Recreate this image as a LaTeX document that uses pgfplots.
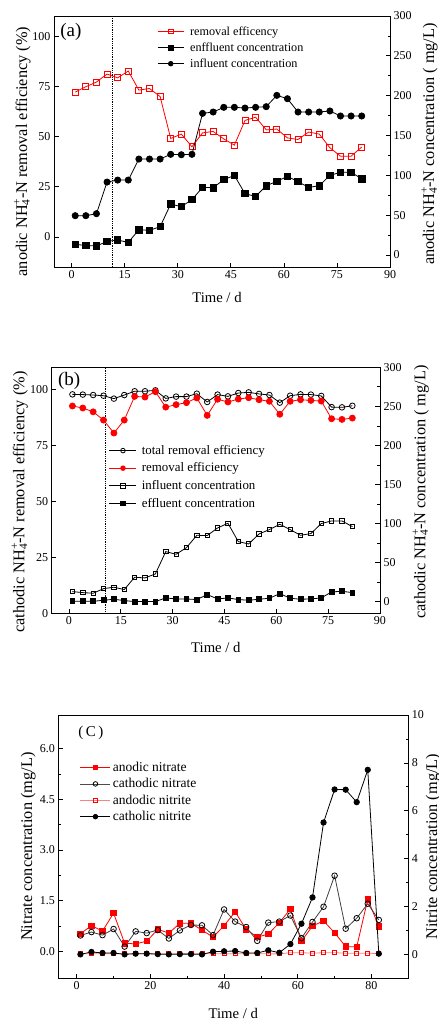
\documentclass[border=0pt]{standalone}
\usepackage{pgfplots}
\usepackage{pgfplotstable}
\pgfplotsset{compat=1.18}
\usepackage{fontspec}
\setmainfont{Liberation Serif}

\pgfplotstableread{
d re ef in
1 72.1 13.4 49.4
4 74.8 12.1 49.4
7 77.1 11.3 51.9
10 81.1 17.2 91.6
13 79.2 18.8 94.1
16 82.6 15.9 94.1
19 73.1 31.8 120.5
22 73.9 31.0 120.5
25 69.9 35.6 120.5
28 49.0 64.0 126.4
31 51.2 60.7 125.9
34 44.9 69.5 126.4
37 51.8 84.9 177.8
40 52.5 84.5 179.5
43 48.8 94.6 185.4
46 45.7 100.0 185.4
49 58.0 77.0 184.5
52 59.6 73.6 185.4
55 53.3 87.0 186.2
58 53.7 92.5 200.4
61 49.3 98.7 196.2
64 48.5 92.1 179.5
67 52.2 84.9 179.5
70 51.2 87.0 179.5
73 44.4 100.0 180.8
76 40.2 103.8 174.5
79 40.2 103.8 174.5
82 44.7 95.8 174.5
}\tA

\pgfplotstableread{
d tot re in ef
1 97.9 92.7 12.8 0.4
4 97.8 91.8 11.5 0.4
7 97.6 90.1 10.7 0.4
10 97.3 86.4 16.6 1.7
13 96.0 80.6 18.4 3.0
16 97.6 86.4 15.4 1.3
19 99.3 97.0 31.2 0.0
22 99.3 96.7 30.3 0.0
25 99.7 99.1 35.4 0.0
28 96.1 92.2 64.0 4.7
31 96.9 93.3 60.6 3.4
34 96.9 94.2 69.1 3.4
37 98.2 96.3 84.9 2.6
40 94.5 88.5 84.5 9.0
43 97.8 95.7 94.3 3.4
46 97.0 94.5 100.3 4.7
49 98.5 95.8 76.8 2.6
52 98.8 96.4 73.8 1.7
55 98.1 95.5 86.6 3.0
58 97.6 94.8 92.2 4.3
61 94.2 89.0 99.0 10.2
64 97.3 94.8 92.2 4.3
67 97.9 95.5 84.9 3.0
70 97.8 95.2 87.1 3.4
73 97.2 94.9 99.9 4.7
76 92.2 87.0 103.3 12.4
79 92.1 86.7 103.3 13.2
82 92.8 87.3 96.0 11.5
}\tB

\pgfplotstableread{
d an cn ani cni
1 0.52 0.47 0.03 0.00
4 0.76 0.57 0.03 0.10
7 0.60 0.48 0.03 0.06
10 1.13 0.66 0.03 0.06
13 0.24 0.14 0.03 0.00
16 0.22 0.59 0.03 0.03
19 0.30 0.54 0.03 0.03
22 0.65 0.63 0.03 0.01
25 0.54 0.38 0.03 0.00
28 0.83 0.62 0.03 0.01
31 0.83 0.78 0.03 0.01
34 0.63 0.77 0.03 0.00
37 0.42 0.48 0.03 0.11
40 0.76 1.24 0.03 0.13
43 1.17 0.88 0.03 0.14
46 0.65 0.72 0.03 0.06
49 0.42 0.31 0.03 0.06
52 0.51 0.85 0.02 0.17
55 0.85 0.88 0.02 0.07
58 1.25 1.06 0.07 0.43
61 0.30 0.39 0.07 1.28
64 0.75 0.87 0.05 2.38
67 0.90 1.32 0.07 5.51
70 0.55 2.24 0.07 6.89
73 0.14 0.67 0.05 6.88
76 0.13 0.98 0.05 6.36
79 1.54 1.41 0.05 7.71
82 0.74 0.93 0.03 0.03
}\tC

\newcommand{\NHf}{NH\rlap{\textsuperscript{+}}\textsubscript{4}}

\pgfplotsset{
  every axis/.append style={
    scale only axis,
    /pgf/number format/assume math mode=true,
    tick label style={font=\fontsize{12}{14}\selectfont},
    ylabel style={font=\fontsize{16.3}{18}\selectfont},
    xlabel style={font=\fontsize{14.7}{16}\selectfont},
    axis line style={line width=0.9pt},
    every tick/.style={black, line width=0.7pt},
    major tick length=4.5pt, minor tick length=2.5pt,
    legend style={draw=none, fill=none, anchor=north west},
    legend cell align=left,
  },
  lega/.style={legend image code/.code={\draw[mark repeat=2,mark phase=2,##1,mark size=2.3pt] plot coordinates {(0pt,0pt) (13pt,0pt) (26pt,0pt)}; \path (30pt,0pt);}},
  legb/.style={legend image code/.code={\draw[mark repeat=2,mark phase=2,##1,mark size=2.3pt] plot coordinates {(0pt,0pt) (13.5pt,0pt) (27pt,0pt)}; \path (30pt,0pt);}},
  legc/.style={legend image code/.code={\draw[mark repeat=2,mark phase=2,##1,mark size=2.3pt] plot coordinates {(0pt,0pt) (15pt,0pt) (30pt,0pt)}; \path (29pt,0pt);}},
}

\begin{document}
\begin{tikzpicture}
%================ panel (a)
\begin{axis}[at={(54pt,-267pt)}, anchor=south west, width=336pt, height=251pt,
  xmin=-5, xmax=90, ymin=-15, ymax=110,
  xtick={0,15,...,90}, ytick={0,25,...,100},
  xtick pos=bottom, ytick pos=left,
  xlabel={Time / d},
  ylabel={anodic \NHf-N removal efficiency (\%)},
  ylabel style={at={(axis description cs:-0.094,0.46)}, anchor=center},
  xlabel style={at={(axis description cs:0.485,-0.12)}, anchor=center}]
\addplot[red, line width=0.8pt, mark=square, mark size=3pt, mark options={solid, fill=white}] table[x=d,y=re]{\tA};
\addplot[black, densely dotted, line width=0.8pt, forget plot] coordinates {(11.6,-15) (11.6,110)};
\node[anchor=west, font=\fontsize{19}{20}\selectfont, inner sep=0pt] at (axis description cs:0.018,0.936) {(a)};
\end{axis}
\begin{axis}[at={(54pt,-267pt)}, anchor=south west, width=336pt, height=251pt,
  xmin=-5, xmax=90, ymin=-15, ymax=300,
  axis x line=none, axis y line*=right,
  ytick={0,50,...,300}, minor y tick num=1,
  ylabel={anodic \NHf-N concentration ( mg/L)},
  ylabel style={at={(axis description cs:1.1425,0.49)}, anchor=south, inner sep=0pt},
  legend style={at={(axis description cs:0.298,0.975)}, font=\fontsize{12.2}{14}\selectfont, row sep=2pt}]
\addlegendimage{lega, red, line width=0.8pt, mark=square, mark options={fill=white}}
\addlegendentry{removal efficency}
\addplot[lega, black, line width=0.8pt, mark=square*, mark size=3.2pt] table[x=d,y=ef]{\tA};
\addlegendentry{enffluent concentration}
\addplot[lega, black, line width=0.8pt, mark=*, mark size=3.1pt] table[x=d,y=in]{\tA};
\addlegendentry{influent concentration}
\end{axis}

%================ panel (b)
\begin{axis}[at={(51.7pt,-613.3pt)}, anchor=south west, width=328.3pt, height=246pt,
  xmin=-5, xmax=90, ymin=0, ymax=110,
  xtick={0,15,...,90}, ytick={0,25,...,100},
  xtick pos=bottom, ytick pos=left,
  xlabel={Time / d},
  ylabel={cathodic \NHf-N removal efficiency (\%)},
  ylabel style={at={(axis description cs:-0.097,0.452)}, anchor=center},
  xlabel style={at={(axis description cs:0.5,-0.137)}, anchor=center}]
\addplot[black, densely dotted, line width=0.8pt, forget plot] coordinates {(10.6,0) (10.6,110)};
\addplot[black, line width=0.8pt, mark=o, mark size=2.8pt, mark options={fill=white}] table[x=d,y=tot]{\tB};
\addplot[red, line width=0.8pt, mark=*, mark size=3pt] table[x=d,y=re]{\tB};
\node[anchor=west, font=\fontsize{19}{20}\selectfont, inner sep=0pt] at (axis description cs:0.019,0.944) {(b)};
\end{axis}
\begin{axis}[at={(51.7pt,-613.3pt)}, anchor=south west, width=328.3pt, height=246pt,
  xmin=-5, xmax=90, ymin=-15, ymax=300,
  axis x line=none, axis y line*=right,
  ytick={0,50,...,300}, minor y tick num=1,
  ylabel={cathodic \NHf-N concentration ( mg/L)},
  ylabel style={at={(axis description cs:1.124,0.493)}, anchor=center},
  legend style={at={(axis description cs:0.165,0.70)}, font=\fontsize{12.9}{15}\selectfont, row sep=3pt}]
\addlegendimage{legb, black, line width=0.8pt, mark=o, mark options={fill=white}}
\addlegendentry{total removal efficiency}
\addlegendimage{legb, red, line width=0.8pt, mark=*}
\addlegendentry{removal efficiency}
\addplot[legb, black, line width=0.8pt, mark=square, mark size=2.2pt, mark options={fill=white}] table[x=d,y=in]{\tB};
\addlegendentry{influent concentration}
\addplot[legb, black, line width=0.8pt, mark=square*, mark size=2.4pt] table[x=d,y=ef]{\tB};
\addlegendentry{effluent concentration}
\end{axis}

%================ panel (c)
\begin{axis}[at={(58.3pt,-978.3pt)}, anchor=south west, width=350pt, height=263.3pt,
  xmin=-5, xmax=90, ymin=-0.8, ymax=7,
  xtick={0,20,...,80}, minor x tick num=1,
  ytick={0,1.5,...,6}, minor y tick num=1,
  yticklabel style={/pgf/number format/.cd, fixed, fixed zerofill, precision=1},
  xtick pos=bottom, ytick pos=left,
  xlabel={Time / d},
  ylabel={Nitrate concentration (mg/L)},
  ylabel style={at={(axis description cs:-0.086,0.5)}, anchor=center},
  xlabel style={at={(axis description cs:0.5,-0.132)}, anchor=center}]
\addplot[red, line width=0.8pt, mark=square*, mark size=2.7pt] table[x=d,y=an]{\tC};
\addplot[black!75, line width=0.8pt, mark=o, mark size=2.8pt, mark options={black, fill=white}] table[x=d,y=cn]{\tC};
\node[font=\fontsize{15}{16}\selectfont] at (axis description cs:0.093,0.933) {(\,C\,)};
\end{axis}
\begin{axis}[at={(58.3pt,-978.3pt)}, anchor=south west, width=350pt, height=263.3pt,
  xmin=-5, xmax=90, ymin=-1, ymax=10,
  axis x line=none, axis y line*=right,
  ytick={0,2,...,10}, minor y tick num=1,
  ylabel={Nitrite concentration (mg/L)},
  ylabel style={at={(axis description cs:1.071,0.5)}, anchor=center},
  legend style={at={(axis description cs:0.053,0.837)}, font=\fontsize{13.5}{15}\selectfont, row sep=1.5pt}]
\addlegendimage{legc, red, line width=0.8pt, mark=square*}
\addlegendentry{anodic nitrate}
\addlegendimage{legc, black!70, line width=0.8pt, mark=o, mark options={black, fill=white}}
\addlegendentry{cathodic nitrate}
\addplot[legc, red!50, line width=0.8pt, mark=square, mark size=2pt, mark options={red, fill=white}] table[x=d,y=ani]{\tC};
\addlegendentry{andodic nitrite}
\addplot[legc, black, line width=0.8pt, mark=*, mark size=2.7pt] table[x=d,y=cni]{\tC};
\addlegendentry{catholic nitrite}
\end{axis}

\pgfresetboundingbox
\path[use as bounding box] (0pt,0pt) rectangle (439pt,-1020pt);
\end{tikzpicture}
\end{document}
